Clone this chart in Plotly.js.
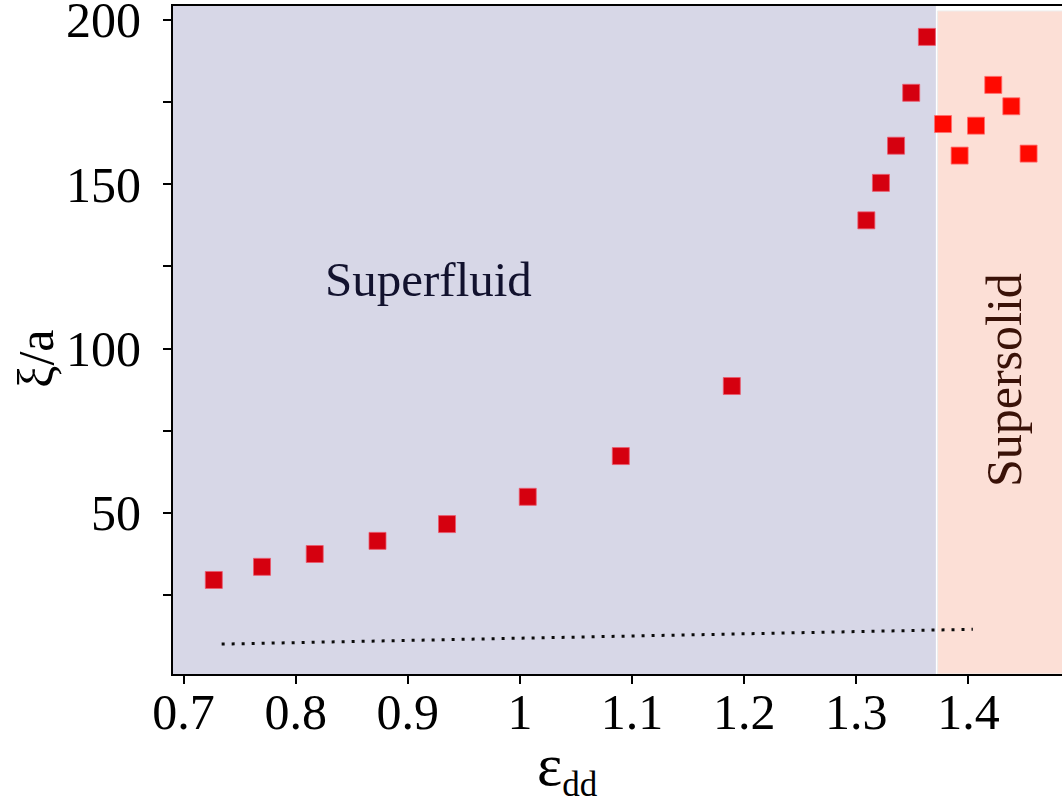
<!DOCTYPE html>
<html>
<head>
<meta charset="utf-8">
<script src="https://cdn.plot.ly/plotly-3.0.1.min.js"></script>
<style>
  html, body { margin: 0; padding: 0; background: #ffffff; }
  #chart { width: 1062px; height: 796px; }
</style>
</head>
<body>
<div id="chart"></div>
<script>
// Healing length xi/a versus dipolar strength eps_dd
const superfluidEps = [0.727, 0.770, 0.817, 0.873, 0.935, 1.007, 1.090, 1.189, 1.309, 1.322, 1.3355, 1.349, 1.363];
const superfluidXi  = [29.6, 33.6, 37.5, 41.5, 46.6, 54.9, 67.3, 88.6, 139.0, 150.4, 161.7, 177.8, 194.8];

const supersolidEps = [1.3774, 1.3922, 1.4068, 1.4222, 1.4383, 1.4537];
const supersolidXi  = [168.3, 158.7, 167.8, 180.2, 173.7, 159.3];

// Reference dotted line
const refEps = [0.734, 1.404];
const refXi  = [10.1, 14.6];

// Phase boundary
const phaseBoundary = 1.371;

const xTickVals = [0.7, 0.8, 0.9, 1.0, 1.1, 1.2, 1.3, 1.4];
const xTickText = ['0.7', '0.8', '0.9', '1', '1.1', '1.2', '1.3', '1.4'];
const yTickVals = [25, 50, 75, 100, 125, 150, 175, 200];
const yTickText = ['', '50', '', '100', '', '150', '', '200'];

const xRange = [0.6906, 1.4835];
const yRange = [1.0, 204.2];

const serif = 'Liberation Serif, Times New Roman, serif';

const traces = [
  {
    x: refEps, y: refXi, type: 'scatter', mode: 'lines',
    line: { color: '#0a0a0a', width: 3, dash: '3px,7px' },
    hoverinfo: 'skip', showlegend: false
  },
  {
    x: superfluidEps, y: superfluidXi, type: 'scatter', mode: 'markers',
    marker: { symbol: 'square', size: 17, color: '#d5000f',
              line: { color: 'rgba(235,90,110,0.8)', width: 1 } },
    showlegend: false
  },
  {
    x: supersolidEps, y: supersolidXi, type: 'scatter', mode: 'markers',
    marker: { symbol: 'square', size: 17, color: '#ff0900',
              line: { color: 'rgba(255,110,110,0.8)', width: 1 } },
    showlegend: false
  }
];

const layout = {
  width: 1062, height: 796,
  margin: { l: 173, r: 0, t: 6, b: 122 },
  paper_bgcolor: '#ffffff',
  plot_bgcolor: '#ffffff',
  showlegend: false,
  font: { family: serif, color: '#000000', size: 49 },
  xaxis: {
    range: xRange, showgrid: false, zeroline: false,
    showline: true, linecolor: '#000000', linewidth: 2, mirror: true,
    ticks: 'outside', ticklen: 8, tickwidth: 2, tickcolor: '#000000',
    tickvals: xTickVals, ticktext: xTickText,
    tickfont: { family: serif, size: 50, color: '#000000' },
    ticklabelstandoff: -15, ticklabeloverflow: 'allow'
  },
  yaxis: {
    range: yRange, showgrid: false, zeroline: false,
    showline: true, linecolor: '#000000', linewidth: 2,
    ticks: 'outside', ticklen: 8, tickwidth: 2, tickcolor: '#000000',
    tickvals: yTickVals, ticktext: yTickText,
    tickfont: { family: serif, size: 50, color: '#000000' },
    ticklabelstandoff: 12, ticklabeloverflow: 'allow'
  },
  shapes: [
    { type: 'rect', layer: 'below', xref: 'x', yref: 'y',
      x0: xRange[0], x1: phaseBoundary, y0: yRange[0], y1: yRange[1],
      fillcolor: '#d7d7e7', line: { width: 0 } },
    { type: 'rect', layer: 'below', xref: 'x', yref: 'y',
      x0: phaseBoundary + 0.0015, x1: xRange[1] + 0.01, y0: yRange[0], y1: 202.7,
      fillcolor: '#fcdfd6', line: { color: '#eeeeee', width: 1 } }
  ],
  annotations: [
    { text: 'Superfluid', xref: 'x', yref: 'y', x: 0.9184, y: 121,
      showarrow: false, xanchor: 'center', yanchor: 'middle',
      font: { family: serif, size: 49, color: '#12122e' } },
    { text: 'Supersolid', xref: 'x', yref: 'y', x: 1.4320, y: 90.5,
      showarrow: false, xanchor: 'center', yanchor: 'middle', textangle: -90,
      font: { family: serif, size: 50, color: '#3a1208' } },
    { text: 'ξ/a', xref: 'paper', yref: 'paper', x: -0.155, y: 0.472,
      showarrow: false, xanchor: 'center', yanchor: 'middle', textangle: -90,
      font: { family: serif, size: 50, color: '#000000' } },
    { text: '<span style="font-size:60px">ε</span><sub>dd</sub>', xref: 'paper', yref: 'paper',
      x: 0, y: -0.141, xshift: 394, showarrow: false, xanchor: 'center', yanchor: 'middle',
      font: { family: serif, size: 50, color: '#000000' } }
  ]
};

Plotly.newPlot('chart', traces, layout, { displayModeBar: false, staticPlot: true });
</script>
</body>
</html>
